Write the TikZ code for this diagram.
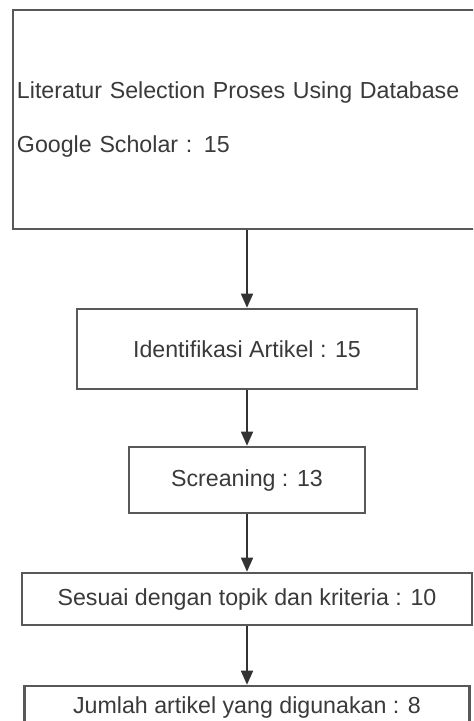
\documentclass[tikz,border=0pt]{standalone}
\usepackage{fontspec}
\setmainfont{Liberation Sans}
\usetikzlibrary{arrows.meta, positioning}
\definecolor{frame1}{RGB}{88,88,88}
\definecolor{text1}{RGB}{58,58,58}

\begin{document}
\begin{tikzpicture}[x=0.5pt, y=-0.5pt,
    stage/.style={draw=frame1, fill=white, line width=1.3pt, text=text1, font=\fontsize{11.6}{14}\selectfont, inner sep=0pt},
    flowarrow/.style={-{Triangle[length=7pt,width=6pt]}, line width=0.8pt, color=black!80}
]
        \clip (0,0) rectangle (473,721);

        \node[stage, name=lit, minimum width=232.5pt, minimum height=109.5pt, text width=228.5pt, align=left,
              font=\fontsize{11.6}{27}\selectfont] at(245.5,119.5)
              {Literatur Selection Proses Using Database\\Google Scholar : 15};
        \node[stage, name=ident, minimum width=170pt, minimum height=40pt] at(247,349) {Identifikasi Artikel : 15};
        \node[stage, name=screen, minimum width=118pt, minimum height=33pt] at(247,480) {Screaning : 13};
        \node[stage, name=topic, minimum width=225pt, minimum height=26pt] at(247,599) {Sesuai dengan topik dan kriteria : 10};
        \node[stage, name=used, minimum width=222.5pt, minimum height=21pt] at(247,707) {Jumlah artikel yang digunakan : 8};

        \draw[flowarrow] (lit.south -| ident.north) -- (ident.north);
        \draw[flowarrow] (ident) -- (screen);
        \draw[flowarrow] (screen) -- (topic);
        \draw[flowarrow] (topic) -- (used);
\end{tikzpicture}
\end{document}
